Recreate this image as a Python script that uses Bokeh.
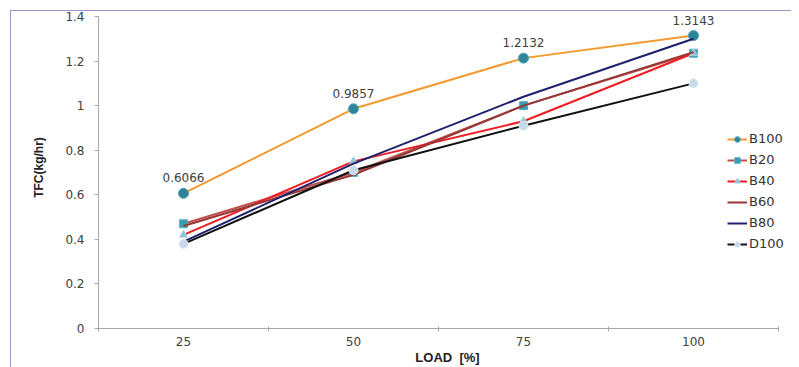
from bokeh.plotting import figure
from bokeh.models import (Range1d, FixedTicker, NumeralTickFormatter, Legend, LegendItem,
                          ColumnDataSource, InlineStyleSheet)
from bokeh.embed import file_html
from bokeh.resources import INLINE

loads = ["25", "50", "75", "100"]
B100 = [0.6066, 0.9857, 1.2132, 1.3143]
B20 = [0.47, 0.70, 1.00, 1.235]
B40 = [0.42, 0.75, 0.93, 1.235]
B60 = [0.46, 0.69, 1.00, 1.24]
B80 = [0.39, 0.74, 1.04, 1.30]
D100 = [0.38, 0.71, 0.91, 1.10]
y_ticks = [0, 0.2, 0.4, 0.6, 0.8, 1.0, 1.2, 1.4]

xpos = [i + 0.5 for i in range(len(loads))]
bounds = list(range(len(loads) + 1))

# frame runs a little past the last category / top tick so legend and labels are not clipped
frame_w = 799 - 98 - 3
cat_w = 170
y_top = y_ticks[-1] * (328 - 6) / (328 - 16)
p = figure(width=799, height=367, output_backend="svg", toolbar_location=None,
           x_range=Range1d(0, frame_w / cat_w), y_range=Range1d(0, y_top),
           min_border_left=98, min_border_right=3, min_border_top=6, min_border_bottom=39)
p.outline_line_color = None
p.xgrid.visible = False
p.ygrid.visible = False
p.background_fill_color = "white"
p.border_fill_color = "white"

axis_col = "#a6a6a6"
lab_font = "DejaVu Sans"

p.xaxis.bounds = (bounds[0], bounds[-1])
p.xaxis.ticker = FixedTicker(ticks=xpos, minor_ticks=bounds)
p.xaxis.major_label_overrides = {x: l for x, l in zip(xpos, loads)}
p.xaxis.major_tick_out = 0
p.xaxis.major_tick_in = 0
p.xaxis.minor_tick_out = 3
p.xaxis.minor_tick_in = 2
p.xaxis.minor_tick_line_color = axis_col
p.xaxis.axis_line_color = axis_col
p.xaxis.major_label_standoff = 5
p.xaxis.major_label_text_font = lab_font
p.xaxis.major_label_text_font_size = "12px"
p.xaxis.major_label_text_color = "#404040"
p.xaxis.axis_label = "LOAD \u00a0[%]"
p.xaxis.axis_label_text_font = "Liberation Sans"
p.xaxis.axis_label_text_font_size = "13px"
p.xaxis.axis_label_text_font_style = "bold"
p.xaxis.axis_label_text_color = "#222222"
p.xaxis.axis_label_standoff = 1

p.yaxis.bounds = (y_ticks[0], y_ticks[-1])
p.yaxis.ticker = FixedTicker(ticks=y_ticks)
p.yaxis.formatter = NumeralTickFormatter(format="0.[0]")
p.yaxis.major_tick_out = 4
p.yaxis.major_tick_in = 0
p.yaxis.minor_tick_out = 0
p.yaxis.minor_tick_in = 0
p.yaxis.major_tick_line_color = axis_col
p.yaxis.axis_line_color = axis_col
p.yaxis.major_label_standoff = 10
p.yaxis.major_label_text_font = lab_font
p.yaxis.major_label_text_font_size = "12px"
p.yaxis.major_label_text_color = "#404040"
p.yaxis.axis_label = "TFC(kg/hr)"
p.yaxis.axis_label_text_font = "Liberation Sans"
p.yaxis.axis_label_text_font_size = "12px"
p.yaxis.axis_label_text_font_style = "bold"
p.yaxis.axis_label_text_color = "#222222"
p.yaxis.axis_label_standoff = 16

items = []

def series(name, vals, color, marker=None, mfill=None, mline=None, msize=9):
    src = ColumnDataSource(dict(x=xpos, y=vals))
    rs = [p.line("x", "y", source=src, line_color=color, line_width=2)]
    if marker:
        rs.append(p.scatter("x", "y", source=src, marker=marker, size=msize,
                            fill_color=mfill, line_color=mline, line_width=1))
    items.append(LegendItem(label=name, renderers=rs))

series("B100", B100, "#F39A2E", "circle", "#2E8597", "#4FA3B5", 10)
series("B20", B20, "#C0504D", "square", "#3A9AB2", "#5BB0C6", 8)
series("B40", B40, "#EE1C24", "triangle", "#8DC3D8", "#A9D3E3", 8)
series("B60", B60, "#953735")
series("B80", B80, "#1F1F6E")
series("D100", D100, "#111111", "circle", "#C8DAEA", "#DDE8F2", 9)

lbl_src = ColumnDataSource(dict(x=xpos, y=B100, t=[f"{v:.4f}" for v in B100]))
p.text("x", "y", text="t", source=lbl_src, text_align="center", text_baseline="bottom",
       y_offset=-11, text_font_size="12px", text_color="#404040",
       text_font={"value": lab_font})

leg = Legend(items=items, location=(629, 77), orientation="vertical")
leg.border_line_color = None
leg.background_fill_alpha = 0
leg.padding = 0
leg.margin = 0
leg.spacing = 6
leg.glyph_width = 20
leg.glyph_height = 14
leg.label_height = 14
leg.label_standoff = 2
leg.label_text_font = lab_font
leg.label_text_font_size = "13px"
leg.label_text_color = "#333333"
p.add_layout(leg)

p.stylesheets = [InlineStyleSheet(css=(
    ":host::after {content: ''; position: absolute; left: 10px; top: 10px; "
    "width: 780px; height: 356px; border-left: 1.5px solid #9C94C4; "
    "border-top: 1.5px solid #9C94C4; pointer-events: none; z-index: 10;}"))]

open("out.html", "w").write(file_html(p, INLINE))
